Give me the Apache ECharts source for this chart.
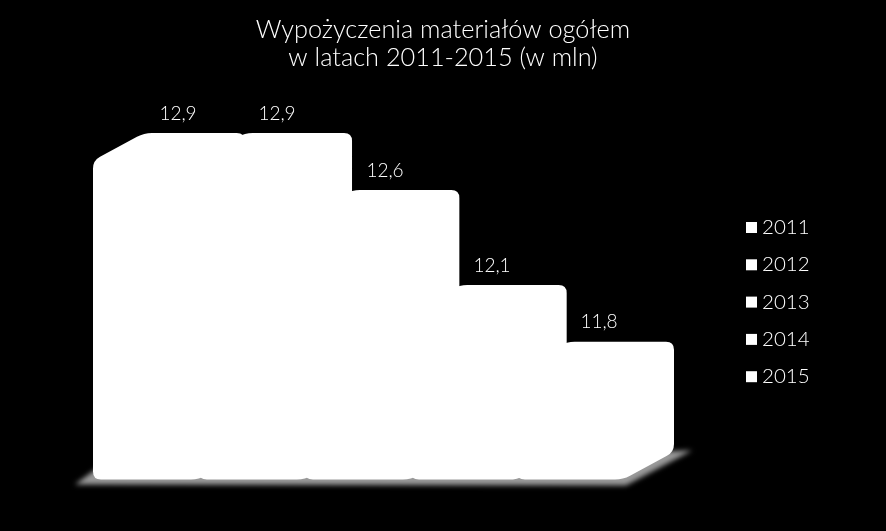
<!DOCTYPE html>
<html><head><meta charset="utf-8">
<style>html,body{margin:0;padding:0;background:#000}#c{width:886px;height:531px}</style>
<script src="https://cdn.jsdelivr.net/npm/echarts@6/dist/echarts.min.js"></script>
</head><body><div id="c"></div>
<script>
const titleLines = ["Wypożyczenia materiałów ogółem", "w latach 2011-2015 (w mln)"];
const years = ["2011", "2012", "2013", "2014", "2015"];
const values = [12.9, 12.9, 12.6, 12.1, 11.8];
const valueLabels = ["12,9", "12,9", "12,6", "12,1", "11,8"];
const axisMin = 11.22;

const FONT = 'Lato, "Open Sans", sans-serif';
const DEPTH_X = 51, DEPTH_Y = 27.5, R = 8;
const LABEL_DX = [32, 25, 27, 28, 29];

function roundedPath(pts, r) {
  const n = pts.length; let d = '';
  for (let i = 0; i < n; i++) {
    const p = pts[i], a = pts[(i + n - 1) % n], b = pts[(i + 1) % n];
    const la = Math.hypot(a[0] - p[0], a[1] - p[1]), lb = Math.hypot(b[0] - p[0], b[1] - p[1]);
    const ra = Math.min(r, la / 2), rb = Math.min(r, lb / 2);
    const s = [p[0] + (a[0] - p[0]) * ra / la, p[1] + (a[1] - p[1]) * ra / la];
    const e = [p[0] + (b[0] - p[0]) * rb / lb, p[1] + (b[1] - p[1]) * rb / lb];
    d += (i ? 'L' : 'M') + s[0] + ' ' + s[1] + 'Q' + p[0] + ' ' + p[1] + ' ' + e[0] + ' ' + e[1];
  }
  return d + 'Z';
}

function barItem(idx) {
  return function (params, api) {
    const c = api.value(0), v = api.value(1);
    const top = api.coord([c, v]), base = api.coord([c, axisMin]);
    const w = api.size([1, 0])[0];
    const x0 = top[0] - w / 2, x1 = top[0] + w / 2;
    const rightEdge = params.coordSys.x + params.coordSys.width + DEPTH_X;
    const backX = x => rightEdge - (params.coordSys.x + params.coordSys.width - x) * 1.0125;
    const bl = idx === 0 ? x0 + DEPTH_X : backX(x0), br = backX(x1);
    const yt = top[1], yb = base[1];
    const pts = [[x0, yb], [x0, yt], [bl, yt - DEPTH_Y], [br, yt - DEPTH_Y], [br, yb - DEPTH_Y], [x1, yb]];
    const d = roundedPath(pts, R);
    const ytop = yt - DEPTH_Y;
    return { type: 'group', children: [
      { type: 'path', shape: { pathData: d, layout: 'cover', x: x0, y: ytop, width: br - x0, height: yb - ytop },
        style: { fill: '#fff' }, silent: true, z2: idx },
      { type: 'text', x: top[0] + LABEL_DX[idx], y: ytop - 19.5, silent: true, z2: 20,
        style: { text: valueLabels[idx], fill: '#fff', font: '300 19px ' + FONT, align: 'center', verticalAlign: 'middle' } }
    ]};
  };
}

// Blurred floor shadow: the polygon itself sits off-canvas, only its canvas shadow shows.
const OFF = 2000;
function floorItem(params, api) {
  const cs = params.coordSys;
  const b = cs.y + cs.height, l = cs.x, r = cs.x + cs.width;
  const pts = [[l - 18, b + 5], [l + 5, b - 12], [r + DEPTH_X + 18, b - 29], [r + 3, b + 6]]
    .map(p => [p[0] - OFF, p[1]]);
  return { type: 'polygon', shape: { points: pts }, silent: true,
    style: { fill: '#000', shadowBlur: 5, shadowColor: '#9a9a9a', shadowOffsetX: OFF } };
}

const series = [{ type: 'custom', name: 'floor', z: 1, renderItem: floorItem, data: [[0, axisMin]], silent: true, tooltip:{show:false} }]
  .concat(years.map((y, i) => ({
    type: 'custom', name: y, z: 2 + i, renderItem: barItem(i),
    itemStyle: { color: '#fff' }, silent: true,
    data: [[i, values[i]]], encode: { x: 0, y: 1 }
  })));

const chart = echarts.init(document.getElementById('c'), null, { renderer: 'canvas' });
chart.setOption({
  backgroundColor: '#000',
  animation: false,
  title: { text: titleLines.join('\n'), left: 438, top: 11, textAlign: 'center',
    textStyle: { color: '#fff', fontFamily: FONT, fontWeight: 300, fontSize: 25.3, lineHeight: 28 } },
  legend: { orient: 'vertical', left: 741, top: 212, data: years, icon: 'rect', itemWidth: 11, itemHeight: 11, itemGap: 16.3,
    selectedMode: false, textStyle: { color: '#fff', fontFamily: FONT, fontWeight: 300, fontSize: 20.5, lineHeight: 20 } },
  grid: { left: 93, top: 160.5, width: 530, height: 319 },
  xAxis: { type: 'category', data: years, show: false, boundaryGap: true },
  yAxis: { type: 'value', min: axisMin, max: 12.9, show: false },
  series
});
</script></body></html>
